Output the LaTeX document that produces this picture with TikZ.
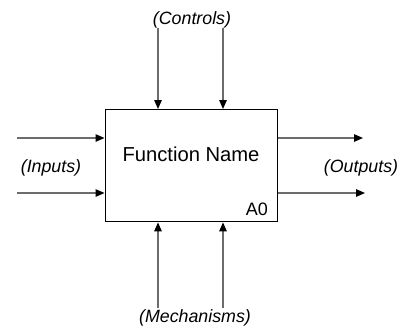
\documentclass[tikz,border=0pt]{standalone}
\usepackage{fontspec}
\setmainfont{Liberation Sans}
\usetikzlibrary{arrows.meta}
\tikzset{
  flow/.style={draw=gray!85!black, line width=1.3pt, -{Triangle[length=9pt,width=7.5pt,black]}},
  lbl/.style={font=\fontsize{17.8}{21}\selectfont\itshape, inner sep=0pt},
  fnbox/.style={draw=black, line width=1.4pt, minimum width=172.5pt, minimum height=112pt, inner sep=0pt}
}
\begin{document}
\begin{tikzpicture}[x=1pt, y=-1pt]
            \useasboundingbox (0,0) rectangle (406,330);

            % Funktionsblock
            \node[fnbox, anchor=north west] (fn) at (104.5,109) {};
            \node[font=\fontsize{20.2}{24}\selectfont] (fname) at (191,154) {Function Name};
            \node[font=\fontsize{18}{21}\selectfont, anchor=base east, inner sep=0pt] (num) at (268,215) {A0};

            % freie Enden der Pfeile
            \coordinate (c1) at (158,28);
            \coordinate (c2) at (223,28);
            \coordinate (i1) at (17,138);
            \coordinate (i2) at (17,193);
            \coordinate (o1) at (363,138);
            \coordinate (o2) at (365,193);
            \coordinate (m1) at (158,308);
            \coordinate (m2) at (223,308);

            % Pfeile
            \draw[flow] (c1) -- (c1 |- fn.north);
            \draw[flow] (c2) -- (c2 |- fn.north);
            \draw[flow] (i1) -- (i1 -| fn.west);
            \draw[flow] (i2) -- (i2 -| fn.west);
            \draw[flow] (o1 -| fn.east) -- (o1);
            \draw[flow] (o2 -| fn.east) -- (o2);
            \draw[flow] (m1) -- (m1 |- fn.south);
            \draw[flow] (m2) -- (m2 |- fn.south);

            % Beschriftung
            \node[lbl] (ctl) at (192,20) {(Controls)};
            \node[lbl] (inp) at (51,168) {(Inputs)};
            \node[lbl] (outp) at (361,168) {(Outputs)};
            \node[lbl] (mech) at (195,318) {(Mechanisms)};
\end{tikzpicture}
\end{document}
